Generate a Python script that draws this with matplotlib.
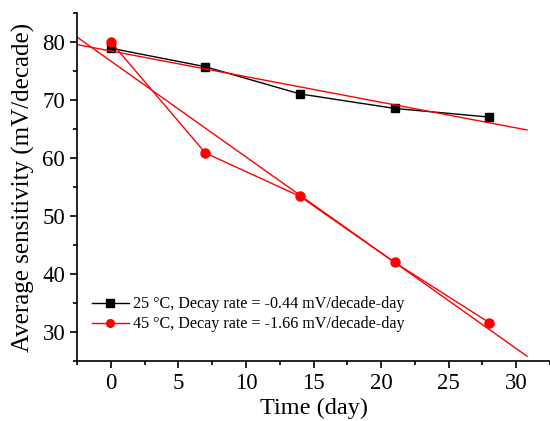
import numpy as np
import matplotlib.pyplot as plt

plt.rcParams['font.family'] = ['Liberation Serif', 'DejaVu Serif']
plt.rcParams['mathtext.fontset'] = 'stix'

days = [0, 7, 14, 21, 28]
sens_25 = [79.0, 75.8, 71.1, 68.6, 67.1]
sens_45 = [80.1, 60.9, 53.4, 42.0, 31.6]
labels = ['25 \u00b0C, Decay rate = -0.44 mV/decade-day',
          '45 \u00b0C, Decay rate = -1.66 mV/decade-day']

fig = plt.figure(figsize=(5.5, 4.21), dpi=100)
ax = fig.add_axes([0.14, 0.143, 0.86, 0.825])

# data points joined by lines
ax.plot(days, sens_25, color='black', marker='s', markersize=6, lw=1, label=labels[0])
ax.plot(days, sens_45, color='red', marker='o', markersize=6.5, lw=1, label=labels[1])

# linear fits
xf = np.array([-2.5, 30.8])
for y, c in [(sens_25, 'red'), (sens_45, 'red')]:
    k, b = np.polyfit(days, y, 1)
    ax.plot(xf, k * xf + b, color=c, lw=1)

ax.set_xlim(-2.5, 32.5)
ax.set_ylim(25, 85)
ax.set_xticks([0, 5, 10, 15, 20, 25, 30])
ax.set_xticks(np.arange(-2.5, 33, 5), minor=True)
ax.set_yticks([30, 40, 50, 60, 70, 80])
ax.set_yticks([25, 35, 45, 55, 65, 75, 85], minor=True)
ax.spines['top'].set_visible(False)
ax.spines['right'].set_visible(False)
ax.tick_params(which='major', length=5, width=1.2, labelsize=16.5)
ax.tick_params(which='minor', length=3, width=1.2)
for s in ['left', 'bottom']:
    ax.spines[s].set_linewidth(1.2)

ax.set_xlabel('Time (day)', fontsize=17.5, labelpad=3)
ax.set_ylabel('Average sensitivity (mV/decade)', fontsize=18, labelpad=5)

ax.legend(loc='lower left', bbox_to_anchor=(0.0, 0.04), frameon=False, fontsize=11.6,
          handlelength=2.3, handletextpad=0.25, labelspacing=0.25, markerscale=0.85)

fig.savefig('out.png', dpi=100)
